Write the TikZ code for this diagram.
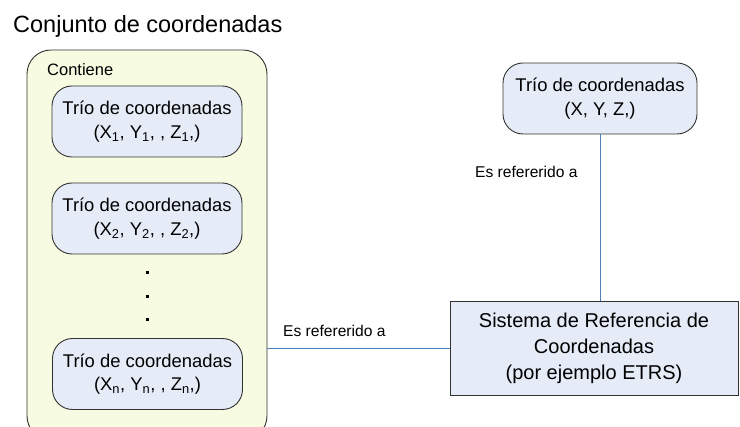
\documentclass[tikz,border=0pt]{standalone}
\usepackage{fontspec}
\setmainfont{Liberation Sans}
\definecolor{linkblue}{RGB}{79,129,189}
\definecolor{boxfill}{RGB}{230,236,247}
\definecolor{contfill}{RGB}{246,251,225}
\definecolor{edgegray}{RGB}{50,50,50}
\tikzset{
  contbox/.style={draw=edgegray, line width=0.9pt, fill=contfill, rounded corners=24pt},
  triobox/.style={draw=edgegray, line width=0.9pt, fill=boxfill, rounded corners=20pt,
    minimum width=190pt, minimum height=71pt, inner sep=0pt, align=center,
    font=\fontsize{18.4}{23.5}\selectfont},
  sysbox/.style={draw=edgegray, line width=0.9pt, fill=boxfill,
    minimum width=288pt, minimum height=94pt, inner sep=0pt, align=center,
    font=\fontsize{20}{26}\selectfont},
  link/.style={draw=linkblue, line width=1pt},
  lbl/.style={inner sep=0pt, font=\fontsize{15.6}{18}\selectfont},
  dotmark/.style={fill=black, minimum size=3pt, inner sep=0pt}
}
\begin{document}
\begin{tikzpicture}[x=1pt,y=-1pt]
\useasboundingbox (0,0) rectangle (740,427);
\clip (0,0) rectangle (740,427);
% title
\node[inner sep=0pt, anchor=base west, font=\fontsize{23.5}{28}\selectfont] (title) at (13,33) {Conjunto de coordenadas};
% container
\node[contbox, minimum width=240pt, minimum height=390pt, inner sep=0pt] (cont) at (147,245) {};
\node[inner sep=0pt, anchor=base west, font=\fontsize{16.5}{20}\selectfont] (contiene) at (47,75.5) {Contiene};
% inner boxes
\node[triobox] (t1) at (147,121.5) {Trío de coordenadas\\(X\textsubscript{1}, Y\textsubscript{1}, , Z\textsubscript{1},)};
\node[triobox] (t2) at (147,218.5) {Trío de coordenadas\\(X\textsubscript{2}, Y\textsubscript{2}, , Z\textsubscript{2},)};
\node[dotmark] (d1) at (147,273) {};
\node[dotmark] (d2) at (147,297) {};
\node[dotmark] (d3) at (147,320) {};
\node[triobox] (tn) at (147.5,374) {Trío de coordenadas\\(X\textsubscript{n}, Y\textsubscript{n}, , Z\textsubscript{n},)};
% right side
\node[triobox, minimum width=194pt] (tr) at (600,98.5) {Trío de coordenadas\\(X, Y, Z,)};
\node[sysbox] (sis) at (594,348.5) {Sistema de Referencia de\\Coordenadas\\(por ejemplo ETRS)};
% connectors
\draw[link] (tr.south) -- (tr.south |- sis.north);
\draw[link] (sis.west) -- (sis.west -| cont.east);
% labels
\node[lbl, anchor=west] (l1) at (475,172) {Es refererido a};
\node[lbl, anchor=west] (l2) at (283,331) {Es refererido a};
\end{tikzpicture}
\end{document}
